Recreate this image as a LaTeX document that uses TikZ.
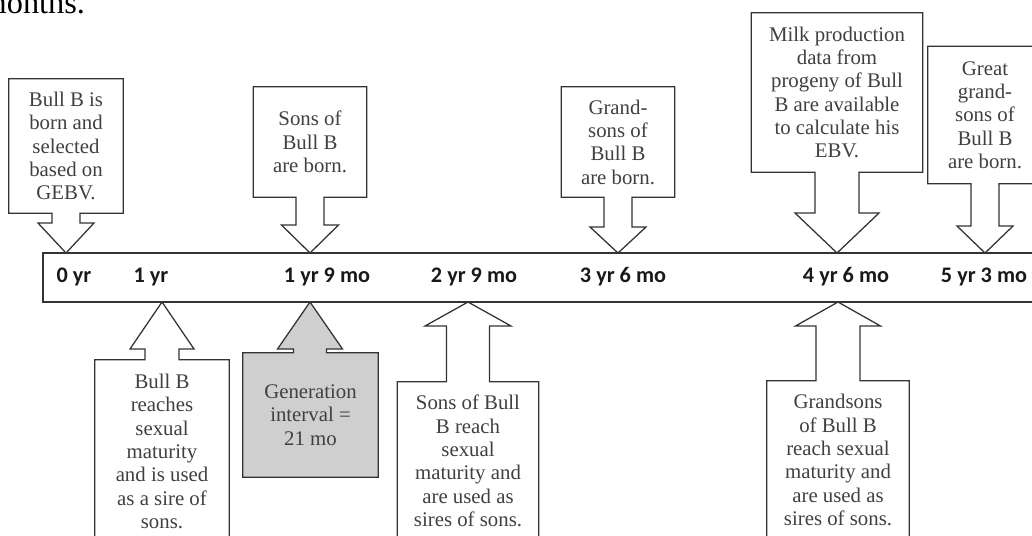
\documentclass[tikz,border=0pt]{standalone}
\usepackage{fontspec}
\setmainfont{Liberation Serif}
\newfontfamily\lblfont{Carlito}
\usetikzlibrary{calc,backgrounds}

% box above the bar, arrow pointing down to the bar
\newcommand{\downcall}[5]{%
  \draw[callout] (#1.south west) -- ($(#2 |- #1.south)+(-#3,0)$)
    -- ($(#2)+(-#3,-#5)$) -- ($(#2)+(-#4,-#5)$) -- (#2)
    -- ($(#2)+(#4,-#5)$) -- ($(#2)+(#3,-#5)$)
    -- ($(#2 |- #1.south)+(#3,0)$) -- (#1.south east)
    -- (#1.north east) -- (#1.north west) -- cycle;}
% box below the bar, arrow pointing up to the bar
\newcommand{\upcall}[6][white]{%
  \draw[callout, fill=#1] (#2.north west) -- ($(#3 |- #2.north)+(-#4,0)$)
    -- ($(#3)+(-#4,#6)$) -- ($(#3)+(-#5,#6)$) -- (#3)
    -- ($(#3)+(#5,#6)$) -- ($(#3)+(#4,#6)$)
    -- ($(#3 |- #2.north)+(#4,0)$) -- (#2.north east)
    -- (#2.south east) -- (#2.south west) -- cycle;}

\begin{document}
\begin{tikzpicture}[
    x=0.025cm, y=-0.025cm,
    every node/.style={font=\fontsize{14.8}{16.6}\selectfont},
    note/.style={align=center, text=black!75, inner sep=0pt},
    callout/.style={draw=black!80, line width=0.9pt, line join=miter},
    barline/.style={draw=black!80, line width=0.9pt},
    yrlabel/.style={font=\lblfont\bfseries\fontsize{15.8}{18}\selectfont, text=black!90},
]
\useasboundingbox (0,0) rectangle (1032,535);

% the time bar
\coordinate (barNW) at (43,253);
\coordinate (barSE) at (1045,302);
\draw[barline] (barNW) rectangle (barSE);

\node[yrlabel] (y0)  at (74,277)  {0 yr};
\node[yrlabel] (y1)  at (151,277) {1 yr};
\node[yrlabel] (y19) at (327,277) {1 yr 9 mo};
\node[yrlabel] (y29) at (474,277) {2 yr 9 mo};
\node[yrlabel] (y36) at (623,277) {3 yr 6 mo};
\node[yrlabel] (y46) at (846,277) {4 yr 6 mo};
\node[yrlabel] (y53) at (984,277) {5 yr 3 mo};

\coordinate (tBorn)   at (66,253);
\coordinate (tSons)   at (310,253);
\coordinate (tGrand)  at (618,253);
\coordinate (tMilk)   at (837,253);
\coordinate (tGreat)  at (985,253);
\coordinate (tMature) at (162,302);
\coordinate (tGen)    at (310,302);
\coordinate (tSonsM)  at (468,302);
\coordinate (tGrandM) at (838,302);

% events above the bar
\node[note, minimum width=2.85cm, minimum height=3.35cm] (born) at (66,146)
    {Bull B is\\born and\\selected\\based on\\GEBV.};
\node[note, minimum width=2.825cm, minimum height=2.75cm] (sons) at (310,142)
    {Sons of\\Bull B\\are born.};
\node[note, minimum width=2.825cm, minimum height=2.75cm] (grand) at (618,142)
    {Grand-\\sons of\\Bull B\\are born.};
\node[note, minimum width=4.275cm, minimum height=3.975cm] (milk) at (837,92.5)
    {Milk production\\data from\\progeny of Bull\\B are available\\to calculate his\\EBV.};
\node[note, minimum width=2.85cm, minimum height=3.425cm] (great) at (985,115)
    {Great\\grand-\\sons of\\Bull B\\are born.};

% events below the bar
\node[note, minimum width=3.35cm, minimum height=4.575cm] (mature) at (162,451.5)
    {Bull B\\reaches\\sexual\\maturity\\and is used\\as a sire of\\sons.};
\node[note, minimum width=3.375cm, minimum height=3.1cm] (gen) at (310.5,415)
    {Generation\\interval =\\21 mo};
\node[note, minimum width=3.525cm, minimum height=3.95cm] (sonsm) at (468,461)
    {Sons of Bull\\B reach\\sexual\\maturity and\\are used as\\sires of sons.};
\node[note, minimum width=3.55cm, minimum height=3.95cm] (grandm) at (838,460)
    {Grandsons\\of Bull B\\reach sexual\\maturity and\\are used as\\sires of sons.};

\node[anchor=base east, font=\fontsize{23}{27}\selectfont] (pagetext) at (90,13) {months.};

\begin{scope}[on background layer]
\fill[white] (0,0) rectangle (1032,535);
\downcall{born}{tBorn}{14}{28}{30}
\downcall{sons}{tSons}{14}{28.5}{28}
\downcall{grand}{tGrand}{14}{28}{26}
\downcall{milk}{tMilk}{22}{42}{40}
\downcall{great}{tGreat}{14}{28}{27}
\upcall{mature}{tMature}{17}{32}{47}
\upcall[black!19]{gen}{tGen}{16.5}{32.5}{47}
\upcall{sonsm}{tSonsM}{21.5}{43}{24}
\upcall{grandm}{tGrandM}{22}{42.5}{24}
\end{scope}
\end{tikzpicture}
\end{document}
